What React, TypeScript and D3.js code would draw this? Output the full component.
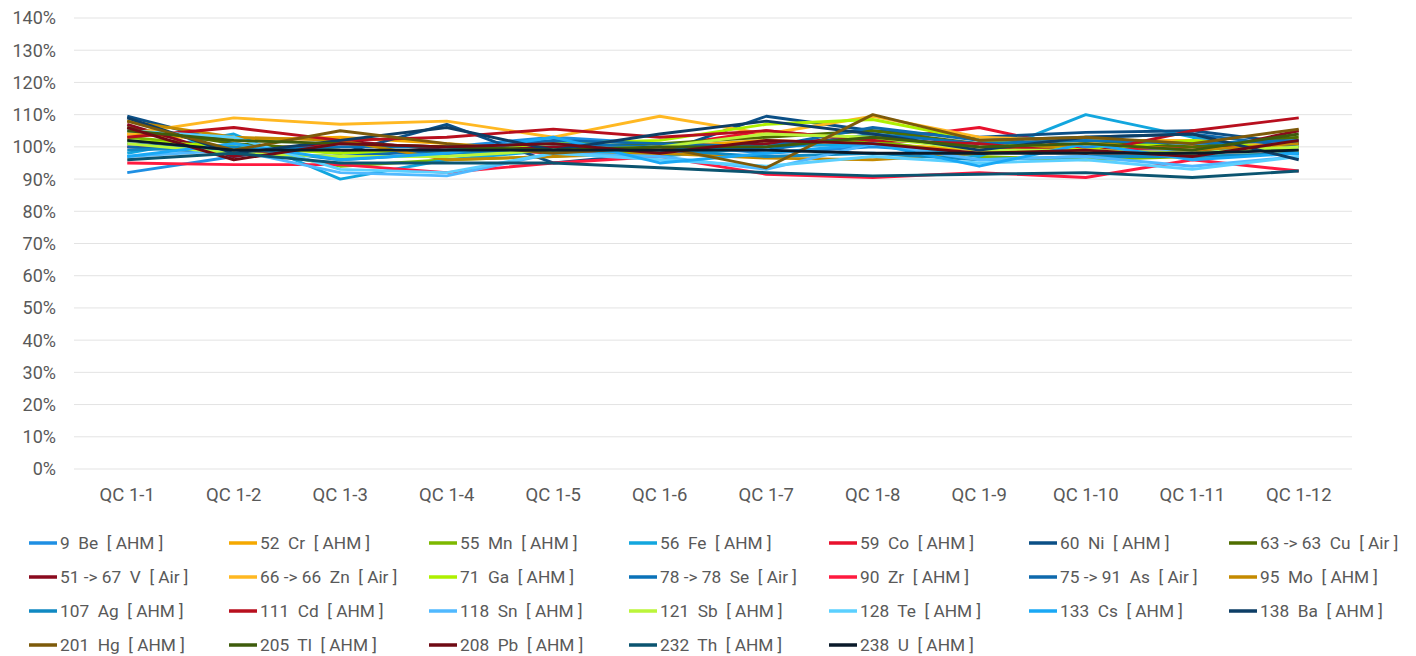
import React from "react";
import * as d3 from "d3";

const categories = ["QC 1-1","QC 1-2","QC 1-3","QC 1-4","QC 1-5","QC 1-6","QC 1-7","QC 1-8","QC 1-9","QC 1-10","QC 1-11","QC 1-12"];
const yTicks = [0,10,20,30,40,50,60,70,80,90,100,110,120,130,140];

const seriesNames = [
  "9  Be  [ AHM ]","52  Cr  [ AHM ]","55  Mn  [ AHM ]","56  Fe  [ AHM ]","59  Co  [ AHM ]","60  Ni  [ AHM ]","63 -> 63  Cu  [ Air ]",
  "51 -> 67  V  [ Air ]","66 -> 66  Zn  [ Air ]","71  Ga  [ AHM ]","78 -> 78  Se  [ Air ]","90  Zr  [ AHM ]","75 -> 91  As  [ Air ]","95  Mo  [ AHM ]",
  "107  Ag  [ AHM ]","111  Cd  [ AHM ]","118  Sn  [ AHM ]","121  Sb  [ AHM ]","128  Te  [ AHM ]","133  Cs  [ AHM ]","138  Ba  [ AHM ]",
  "201  Hg  [ AHM ]","205  Tl  [ AHM ]","208  Pb  [ AHM ]","232  Th  [ AHM ]","238  U  [ AHM ]"
];
const seriesColors = [
  "#1E8FE3","#F5A800","#7DB800","#12A6DE","#E8112D","#0B4F86","#4F6E00",
  "#8A0A1E","#FFB822","#AEF000","#0A72B8","#FF1A3F","#0E69AC","#C48A00",
  "#1089C2","#B80F1E","#50B9FF","#BBF53A","#5BD0FF","#1AA8F5","#0D3E66",
  "#7D5A0A","#3E5C0C","#6F0A14","#0B5470","#0A1A2A"
];

const vBe = [92,97,101,100,103,101,98,100,98,100,99,100];
const vCr = [104,102,103,101,99,100,102,101,99,101,100,101];
const vMn = [103,100,94,96,97,99,101,102,97,96,97,98];
const vFe = [98,104,90,96,99,97,100,101,97,110,103,98];
const vCo = [100,99,101,100,98,100,105,102,106,99,100,101];
const vNi = [109.5,101,98,107,95,98,109.5,105,103,104.5,105,101];
const vCu = [106,101,99,98,100,101,103,105,101,102,100,103];
const vV = [107,97,102,99,100,99,101,103,100,99,98,105];
const vZn = [104,109,107,108,103,109.5,104,109.5,103,102,102,100];
const vGa = [102,100,98,99,101,102,107,108.5,102,99,102,99];
const vSe = [101,99,100,100,101,100,99,104,101,102,101,102];
const vZr = [95,94.5,94.5,92,95,97,91.5,90.5,92,90.5,96,92.5];
const vAs = [100,98,97,99,102,101,100,106,102,103,104,100];
const vMo = [108,103,102,96,97,98,96.5,96,98,101,99,101];
const vAg = [99,100,96,98,99,99,97,98,96,97,97,98];
const vCd = [103,106,102,103,105.5,103,105,102,101,98,105,109];
const vSn = [97,99,92,91,98,97,93,101,96,97,94,97];
const vSb = [101,98,97,97,99,100,104,103,99,99,98,100];
const vTe = [105,103,93,92,98,96,94,97,95,96,93,97];
const vCs = [97,101,96,98,103,95,98,101,94,101,96,98];
const vBa = [109,98,102,106,99,104,108,104,99,103,104,96];
const vHg = [108,99,105,101,98,100,93.5,110,102,103,101,105.5];
const vTl = [105,102,101,100,99,100,100,103,100,101,99,104];
const vPb = [106,96,101,100,101,98,102,101,98,99,97,102];
const vTh = [96,98,95,95,95,93.5,92,91,91.5,92,90.5,92.5];
const vU = [102,99,99,99,99,99,99,98,98,98,98,99];

const seriesValues = [vBe,vCr,vMn,vFe,vCo,vNi,vCu,vV,vZn,vGa,vSe,vZr,vAs,vMo,vAg,vCd,vSn,vSb,vTe,vCs,vBa,vHg,vTl,vPb,vTh,vU];

const W = 1416, H = 656;
const plotLeft = 74, plotRight = 1352, plotTop = 18, plotBottom = 469;

export default function App() {
  const x = d3.scaleBand<string>().domain(categories).range([plotLeft, plotRight]);
  const y = d3.scaleLinear().domain([0, 140]).range([plotBottom, plotTop]);
  const line = d3.line<number>()
    .x((_, i) => (x(categories[i]) as number) + x.bandwidth() / 2)
    .y((d) => y(d));
  const font = "Roboto, 'Noto Sans', sans-serif";
  return (
    <svg width={W} height={H} style={{ position: "absolute", left: 0, top: 0, background: "#fff" }}>
      {yTicks.map((t) => (
        <g key={t}>
          <line x1={plotLeft} x2={plotRight} y1={y(t)} y2={y(t)} stroke="#E3E3E3" strokeWidth={1} />
          <text x={56} y={y(t)} dy="0.36em" textAnchor="end" fontFamily={font} fontSize={18} fill="#595959">{t}%</text>
        </g>
      ))}
      {categories.map((c) => (
        <text key={c} x={(x(c) as number) + x.bandwidth() / 2} y={501} textAnchor="middle" fontFamily={font} fontSize={18.5} fill="#595959">{c}</text>
      ))}
      {seriesValues.map((vals, i) => (
        <path key={i} d={line(vals) || ""} fill="none" stroke={seriesColors[i]} strokeWidth={2.9} strokeLinejoin="round" />
      ))}
      {seriesNames.map((name, i) => {
        const col = i % 7, row = Math.floor(i / 7);
        const lx = 29 + col * 200;
        const ly = 543 + row * 34;
        return (
          <g key={name}>
            <line x1={lx} x2={lx + 28} y1={ly} y2={ly} stroke={seriesColors[i]} strokeWidth={3.5} />
            <text x={lx + 31} y={ly} dy="0.36em" fontFamily={font} fontSize={17.3} fill="#595959" style={{ whiteSpace: "pre" }}>{name}</text>
          </g>
        );
      })}
    </svg>
  );
}
